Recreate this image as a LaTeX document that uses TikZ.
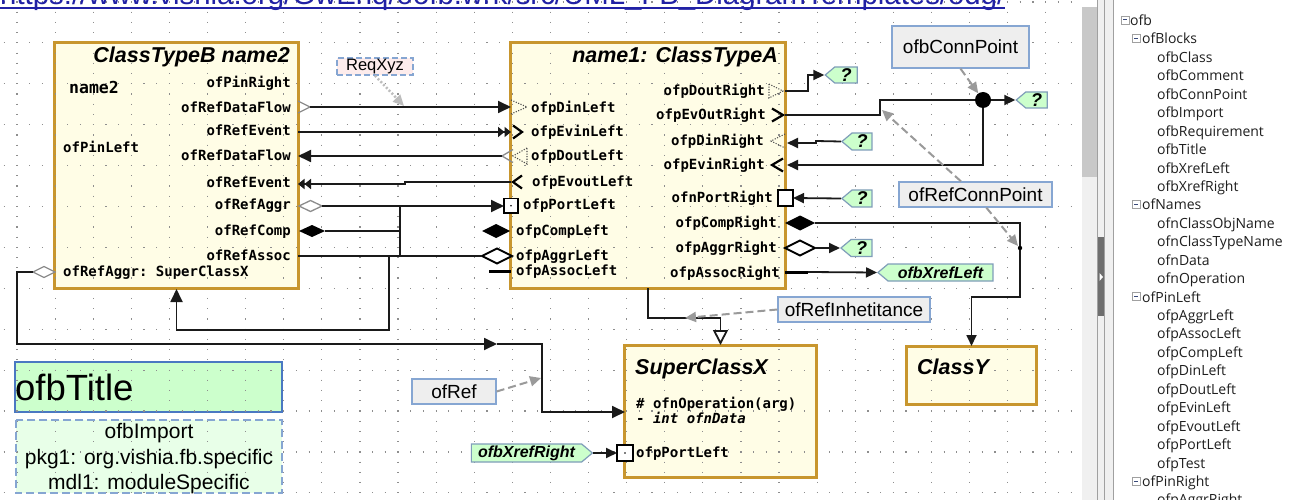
\documentclass[tikz,border=0pt]{standalone}
\usepackage{fontspec}
\usepackage{graphicx}
\setmainfont{Liberation Sans}
\setmonofont{DejaVu Sans Mono}
\newfontfamily\treefont{Open Sans}
\usetikzlibrary{arrows.meta,shapes.symbols}

\definecolor{clsfill}{HTML}{FFFDE6}
\definecolor{clsbd}{HTML}{C8962E}
\definecolor{notefill}{HTML}{EEEEEE}
\definecolor{notebd}{HTML}{86A6D2}
\definecolor{xreffill}{HTML}{CCFFCC}
\definecolor{xrefbd}{HTML}{7F9DB9}
\definecolor{titlebd}{HTML}{4A78C2}
\definecolor{impfill}{HTML}{E8FFE8}
\definecolor{reqfill}{HTML}{FDECEC}
\definecolor{linec}{HTML}{1A1A1A}
\definecolor{gridc}{HTML}{8E8E8E}
\definecolor{urlc}{HTML}{2121A5}
\definecolor{treetx}{HTML}{1E1E1E}
\definecolor{paneln}{HTML}{A0A0A0}
\definecolor{panelbg}{HTML}{F0F0F0}
\definecolor{thumbc}{HTML}{C8C8C8}
\definecolor{splitc}{HTML}{6E6E6E}
\definecolor{minusc}{HTML}{3A4A7A}
\definecolor{dashg}{HTML}{9A9A9A}
\definecolor{reqg}{HTML}{BDBDBD}

\tikzset{
  tipS/.tip={Triangle[length=11pt,width=10pt]},
  tipB/.tip={Triangle[length=13pt,width=12pt]},
  tipD/.tip={Triangle[length=6.5pt,width=10pt]Triangle[length=6.5pt,width=10pt]},
  tipI/.tip={Triangle[open,length=15pt,width=15pt,fill=white]},
  conn/.style={draw=linec, line width=1.8pt},
  pinl/.style={font=\ttfamily\bfseries\fontsize{14}{16}\selectfont, inner sep=0pt},
  lblR/.style={pinl, anchor=base east},
  lblL/.style={pinl, anchor=base west},
  clsbox/.style={draw=clsbd, fill=clsfill, line width=2pt, inner sep=0pt},
  clstitle/.style={font=\bfseries\itshape\fontsize{21.5}{24}\selectfont, inner sep=0pt},
  notebox/.style={draw=notebd, fill=notefill, line width=1.3pt, inner sep=0pt,
    font=\fontsize{19}{22}\selectfont},
  xrefl/.style={signal, signal to=west, signal pointer angle=80, draw=xrefbd,
    fill=xreffill, line width=1.2pt, inner sep=0pt,
    font=\bfseries\itshape\fontsize{16}{18}\selectfont},
  xrefr/.style={signal, signal to=east, signal pointer angle=80, draw=xrefbd,
    fill=xreffill, line width=1.2pt, inner sep=0pt,
    font=\bfseries\itshape\fontsize{16}{18}\selectfont},
  qmark/.style={xrefl, font=\bfseries\itshape\fontsize{18.5}{20}\selectfont},
  dotpin/.style={draw=black!70, line width=1.1pt, dash pattern=on 1.1pt off 1.5pt},
  chev/.style={draw=black, line width=2.2pt},
  gpin/.style={draw=black!45, line width=1.3pt},
  notearrow/.style={draw=dashg, line width=2pt, dash pattern=on 8pt off 4pt,
    -{Triangle[length=11pt,width=10pt]}},
  treel/.style={anchor=base west, inner sep=0pt, text=treetx,
    font=\treefont\fontsize{14}{16}\selectfont},
}

\begin{document}
\begin{tikzpicture}[x=1pt, y=-1pt]
\clip (0,0) rectangle (1294,500);
\fill[white] (0,0) rectangle (1294,500);

% ---------- block fills (the grid shows through them) ----------
\node[clsbox, minimum width=243pt, minimum height=245pt] (B) at (176.5,165.5) {};
\node[clsbox, minimum width=274pt, minimum height=245pt] (A) at (648,165.5) {};
\node[clsbox, minimum width=191pt, minimum height=131pt] (S) at (720.5,411.5) {};
\node[clsbox, minimum width=129pt, minimum height=57pt] (Y) at (971.5,375.5) {};
\node[draw=titlebd, fill=xreffill, line width=1.2pt, inner sep=0pt,
      minimum width=267pt, minimum height=50pt] (T) at (148.5,387) {};
\node[fill=impfill, inner sep=0pt, minimum width=266pt, minimum height=73pt]
      (I) at (149,456.5) {};

% ---------- dotted grid ----------
\foreach \r in {0,...,12}{
  \draw[gridc, line width=1.2pt, dash pattern=on 1.2pt off 11.5pt]
    (3.7,{2+40.9*\r}) -- (1082,{2+40.9*\r});
}
\foreach \c in {0,...,27}{
  \draw[gridc, line width=1.2pt, dash pattern=on 1.2pt off 9.025pt]
    ({17+38.1*\c},1.4) -- ({17+38.1*\c},500);
}

% ---------- block borders ----------
\foreach \n in {B,A,S,Y}{
  \draw[clsbd, line width=2pt] (\n.north west) rectangle (\n.south east);
}
\draw[titlebd, line width=1.2pt] (T.north west) rectangle (T.south east);
\draw[notebd, line width=1.5pt, dash pattern=on 8pt off 4pt] (I.north west) rectangle (I.south east);

% ---------- ClassTypeB ----------
\node[clstitle, anchor=base east] (Bt) at (290,63) {ClassTypeB name2};
\node[pinl, anchor=base west, font=\ttfamily\bfseries\fontsize{16.5}{18}\selectfont] (Bn) at (69,94) {name2};
\node[lblR] (b1) at (291,88) {ofPinRight};
\node[lblR] (b2) at (291,113) {ofRefDataFlow};
\node[lblR] (b3) at (291,136) {ofRefEvent};
\node[lblR] (b4) at (291,161) {ofRefDataFlow};
\node[lblR] (b5) at (291,188) {ofRefEvent};
\node[lblR] (b6) at (291,210) {ofRefAggr};
\node[lblR] (b7) at (291,236) {ofRefComp};
\node[lblR] (b8) at (291,260) {ofRefAssoc};
\node[lblL] (b9) at (63,153) {ofPinLeft};
\node[lblL] (b10) at (63,276) {ofRefAggr: SuperClassX};

% ---------- name1: ClassTypeA ----------
\node[clstitle, anchor=base east] (At) at (778,63) {name1: ClassTypeA};
\node[lblL] (a1) at (531,112.5) {ofpDinLeft};
\node[lblL] (a2) at (531,137) {ofpEvinLeft};
\node[lblL] (a3) at (531,161) {ofpDoutLeft};
\node[lblL] (a4) at (532,187) {ofpEvoutLeft};
\node[lblL] (a5) at (523,209.5) {ofpPortLeft};
\node[lblL] (a6) at (516,235) {ofpCompLeft};
\node[lblL] (a7) at (516,260) {ofpAggrLeft};
\node[lblL] (a8) at (516,275) {ofpAssocLeft};
\node[lblR] (a9) at (765,96) {ofpDoutRight};
\node[lblR] (a10) at (766,120) {ofpEvOutRight};
\node[lblR] (a11) at (764,146) {ofpDinRight};
\node[lblR] (a12) at (765,170) {ofpEvinRight};
\node[lblR] (a13) at (773,202.5) {ofnPortRight};
\node[lblR] (a14) at (777,227) {ofpCompRight};
\node[lblR] (a15) at (777,252) {ofpAggrRight};
\node[lblR] (a16) at (780,277) {ofpAssocRight};

% ---------- SuperClassX and ClassY ----------
\node[clstitle, anchor=base west] (St) at (635,374) {SuperClassX};
\node[lblL] (s1) at (636,408.5) {\# ofnOperation(arg)};
\node[lblL] (s2) at (636,423.5) {- \textit{int ofnData}};
\node[lblL] (s3) at (636,457) {ofpPortLeft};
\node[clstitle, anchor=base west] (Yt) at (917,374) {ClassY};

% ---------- title and import ----------
\node[anchor=base west, inner sep=0pt, font=\fontsize{36.5}{40}\selectfont] (Tt) at (15,400) {ofbTitle};
\node[anchor=base, inner sep=0pt, font=\fontsize{21}{24}\selectfont] (I1) at (149,438.5) {ofbImport};
\node[anchor=base, inner sep=0pt, font=\fontsize{21}{24}\selectfont] (I2) at (149,464) {pkg1: org.vishia.fb.specific};
\node[anchor=base, inner sep=0pt, font=\fontsize{21}{24}\selectfont] (I3) at (149,489) {mdl1: moduleSpecific};

% ---------- pins of ClassTypeB ----------
\draw[gpin] (298,101) -- (310,107) -- (298,113);
\draw[gpin, fill=white] (299,206) -- (310.5,200.5) -- (322,206) -- (310.5,211.5) -- cycle;
\fill[black] (299,231) -- (312,225) -- (325,231) -- (312,237) -- cycle;
\draw[gpin, fill=white] (33,272) -- (44,266.5) -- (55,272) -- (44,277.5) -- cycle;

% ---------- pins of ClassTypeA, left ----------
\draw[dotpin] (511,100) -- (527,107) -- (511,114);
\draw[chev] (513,125.5) -- (522,132) -- (513,138.5);
\draw[gpin] (513,149.5) -- (502,156) -- (513,162.5);
\draw[dotpin] (527,148) -- (513,156) -- (527,164) -- cycle;
\draw[chev] (522,175.5) -- (513,182) -- (522,188.5);
\draw[black, line width=1.5pt, fill=white] (504,198.5) rectangle (518,213);
\fill[black] (511,205.8) circle (0.9);
\fill[black] (482,231) -- (496,224) -- (510,231) -- (496,238) -- cycle;
\draw[black, line width=1.8pt, fill=white] (482,256) -- (497,248.5) -- (512,256) -- (497,263.5) -- cycle;
\draw[black, line width=3pt] (489,271) -- (511,271);

% ---------- pins of ClassTypeA, right ----------
\draw[dotpin] (769,84) -- (783,91) -- (769,98) -- cycle;
\draw[chev] (772,108.5) -- (783,115) -- (772,121.5);
\draw[dotpin] (785,134) -- (771,141) -- (785,148);
\draw[chev] (783,158.5) -- (772,165) -- (783,171.5);
\draw[black, line width=1.5pt, fill=white] (778,190) rectangle (793,206);
\fill[black] (785,223) -- (800,215.5) -- (815,223) -- (800,230.5) -- cycle;
\draw[black, line width=1.8pt, fill=white] (785,248) -- (800,240.5) -- (815,248) -- (800,255.5) -- cycle;
\draw[black, line width=3pt] (785,272) -- (808,272);

% ---------- pin of SuperClassX ----------
\draw[black, line width=1.5pt, fill=white] (617,445) rectangle (633,461);
\fill[black] (625,453) circle (0.9);

% ---------- connection points and cross references ----------
\node[circle, fill=black, minimum size=16pt, inner sep=0pt] (dot) at (983,100) {};
\node[qmark, minimum width=32pt, minimum height=16pt] (q1) at (846,75) {?};
\node[qmark, minimum width=31pt, minimum height=16pt] (q2) at (1036.5,100) {?};
\node[qmark, minimum width=30pt, minimum height=17pt] (q3) at (862,141.5) {?};
\node[qmark, minimum width=30pt, minimum height=17pt] (q4) at (862,198.5) {?};
\node[qmark, minimum width=31pt, minimum height=17pt] (q5) at (861.5,248) {?};
\node[xrefl, minimum width=115pt, minimum height=17pt] (xl) at (940.5,272.5) {ofbXrefLeft};
\node[xrefr, minimum width=121pt, minimum height=18pt] (xr) at (526.5,453) {ofbXrefRight};

% ---------- named connector ends ----------
\coordinate (bDFo) at (310,107);   \coordinate (aDin) at (511,107);
\coordinate (bEvo) at (298,132);   \coordinate (aEvin) at (511,132);
\coordinate (aDout) at (502,156);  \coordinate (bDFi) at (298,156);
\coordinate (aEvout) at (511,182); \coordinate (bEvi) at (298,184);
\coordinate (bAggr) at (322,206);  \coordinate (aPort) at (504,206);
\coordinate (bComp) at (325,231);  \coordinate (jA) at (400,206);
\coordinate (jB) at (400,231);     \coordinate (jC) at (400,256);
\coordinate (bAssoc) at (298,256); \coordinate (aAggr) at (482,256);
\coordinate (jD) at (389,256);
\coordinate (bSup) at (33,272);    \coordinate (mid) at (497,344);
\coordinate (sIn) at (625,412);    \coordinate (sPort) at (617,453);
\coordinate (aBot) at (648,288);
\coordinate (aCompR) at (815,223); \coordinate (jY) at (1020,248);
\coordinate (aDoutR) at (785,91);  \coordinate (aEvR) at (785,115);
\coordinate (aDinR) at (787,143);  \coordinate (aEvinR) at (787,165);
\coordinate (aPortR) at (793,198); \coordinate (aAggrR) at (815,248);
\coordinate (aAssocR) at (808,272);
\coordinate (evJog) at (882,110);  \coordinate (jYn) at (1018,246);
\coordinate (inhT) at (685,318);   \coordinate (refT) at (541,378);
\coordinate (reqT) at (404,106);

% ---------- connectors between the blocks ----------
\draw[conn, -tipB] (bDFo) -- (aDin);
\draw[conn, -tipD] (bEvo) -- (aEvin);
\draw[conn, -tipB] (aDout) -- (bDFi);
\draw[conn, -tipD] (aEvout) -- (405,182) -- (405,184) -- (bEvi);
\draw[conn, -tipB] (bAggr) -- (aPort);
\draw[conn] (bComp) -- (jB);
\draw[conn] (jA) -- (jC);
\draw[conn] (bAssoc) -- (aAggr);
\draw[conn, -tipB] (jD) -- (389,330) -| (B.south);
\draw[conn, -tipB] (bSup) -- (17,272) -- (17,344) -- (mid);
\draw[conn, -tipB] (mid) -- (542,344) -- (542,412) -- (sIn);
\draw[conn, -tipS] (xr.east) -- (sPort);
\draw[conn, -tipI] (aBot) -- (648,318) -| (S.north);
\draw[conn, -tipS] (aCompR) -- (1020,223) -- (1020,297) -| (Y.north);
\fill[black] (jY) circle (2.2);

% ---------- connectors on the right of ClassTypeA ----------
\draw[conn, -tipS] (aDoutR) -- (808,91) |- (q1.west);
\draw[conn] (aEvR) -- (880,115) |- (dot);
\draw[conn, -tipS] (dot) -- (q2.west);
\draw[conn, -tipS] (dot) |- (aEvinR);
\draw[conn, -tipS] (q3.west) -- (816,141) -- (816,143) -- (aDinR);
\draw[conn, -tipS] (q4.west) -- (aPortR);
\draw[conn, -tipS] (aAggrR) -- (q5.west);
\draw[conn, -tipS] (aAssocR) -- (xl.west);

% ---------- comments ----------
\node[notebox, minimum width=137pt, minimum height=42pt] (cpn) at (960.5,47) {ofbConnPoint};
\node[notebox, minimum width=153pt, minimum height=25pt] (rcp) at (975.5,194.5) {ofRefConnPoint};
\node[notebox, minimum width=152pt, minimum height=25pt] (inh) at (854,309.5) {ofRefInhetitance};
\node[notebox, minimum width=84pt, minimum height=25pt] (ofr) at (454,391.5) {ofRef};
\node[draw=notebd, fill=reqfill, line width=1.3pt, dash pattern=on 6pt off 3pt,
      inner sep=0pt, minimum width=76pt, minimum height=17pt,
      font=\fontsize{16.5}{18}\selectfont] (req) at (375,66.5) {ReqXyz};
\draw[notearrow] (cpn.south) -- (dot);
\draw[notearrow] (rcp) -- (evJog);
\draw[notearrow] (rcp) -- (jYn);
\draw[notearrow] (inh.west) -- (inhT);
\draw[notearrow] (ofr.east) -- (refT);
\draw[reqg, line width=2.5pt, dash pattern=on 2pt off 2pt,
      -{Triangle[length=11pt,width=10pt]}] (req.south) -- (reqT);

% ---------- side panel ----------
\fill[white] (1082,0) rectangle (1294,500);
\fill[panelbg] (1082,0) rectangle (1113,500);
\fill[white] (1082,0) rectangle (1097,7);
\fill[thumbc] (1082,7) rectangle (1097,177);
\draw[paneln, line width=0.8pt] (1097.5,0) -- (1097.5,500);
\fill[splitc] (1098,237) rectangle (1104,316);
\fill[white] (1099.5,273) -- (1103,277) -- (1099.5,281) -- cycle;
\draw[paneln, line width=0.8pt] (1104.5,0) -- (1104.5,500);
\draw[paneln, line width=0.8pt] (1113,0) -- (1113,500);

\foreach \nm/\lv [count=\i from 0] in {ofb/0,ofBlocks/1,ofbClass/2,ofbComment/2,
    ofbConnPoint/2,ofbImport/2,ofbRequirement/2,ofbTitle/2,ofbXrefLeft/2,
    ofbXrefRight/2,ofNames/1,ofnClassObjName/2,ofnClassTypeName/2,ofnData/2,
    ofnOperation/2,ofPinLeft/1,ofpAggrLeft/2,ofpAssocLeft/2,ofpCompLeft/2,
    ofpDinLeft/2,ofpDoutLeft/2,ofpEvinLeft/2,ofpEvoutLeft/2,ofpPortLeft/2,
    ofpTest/2,ofPinRight/1,ofpAggrRight/2}{
  \pgfmathsetmacro\ty{20+18.44*\i}
  \ifnum\lv=0
    \draw[paneln, line width=0.8pt, fill=white] (1121,\ty-4) rectangle (1129,\ty+4);
    \draw[minusc, line width=1pt] (1123,\ty) -- (1127,\ty);
    \node[treel] (tr\i) at (1130,\ty+5.5) {\nm};
  \fi
  \ifnum\lv=1
    \draw[paneln, line width=0.8pt, fill=white] (1132,\ty-4) rectangle (1140,\ty+4);
    \draw[minusc, line width=1pt] (1134,\ty) -- (1138,\ty);
    \node[treel] (tr\i) at (1142,\ty+5.5) {\nm};
  \fi
  \ifnum\lv=2
    \node[treel] (tr\i) at (1157,\ty+5.5) {\nm};
  \fi
}

% ---------- link line at the top ----------
\node[anchor=base west, inner sep=0pt, text=urlc] (url) at (0,5)
  {\resizebox{1005pt}{!}{https://www.vishia.org/GwEnq/oofb.wrk/src/UML\_FB\_DiagramTemplates/odg/}};
\draw[urlc, line width=2pt] (0,8.5) -- (1005,8.5);
\end{tikzpicture}
\end{document}
